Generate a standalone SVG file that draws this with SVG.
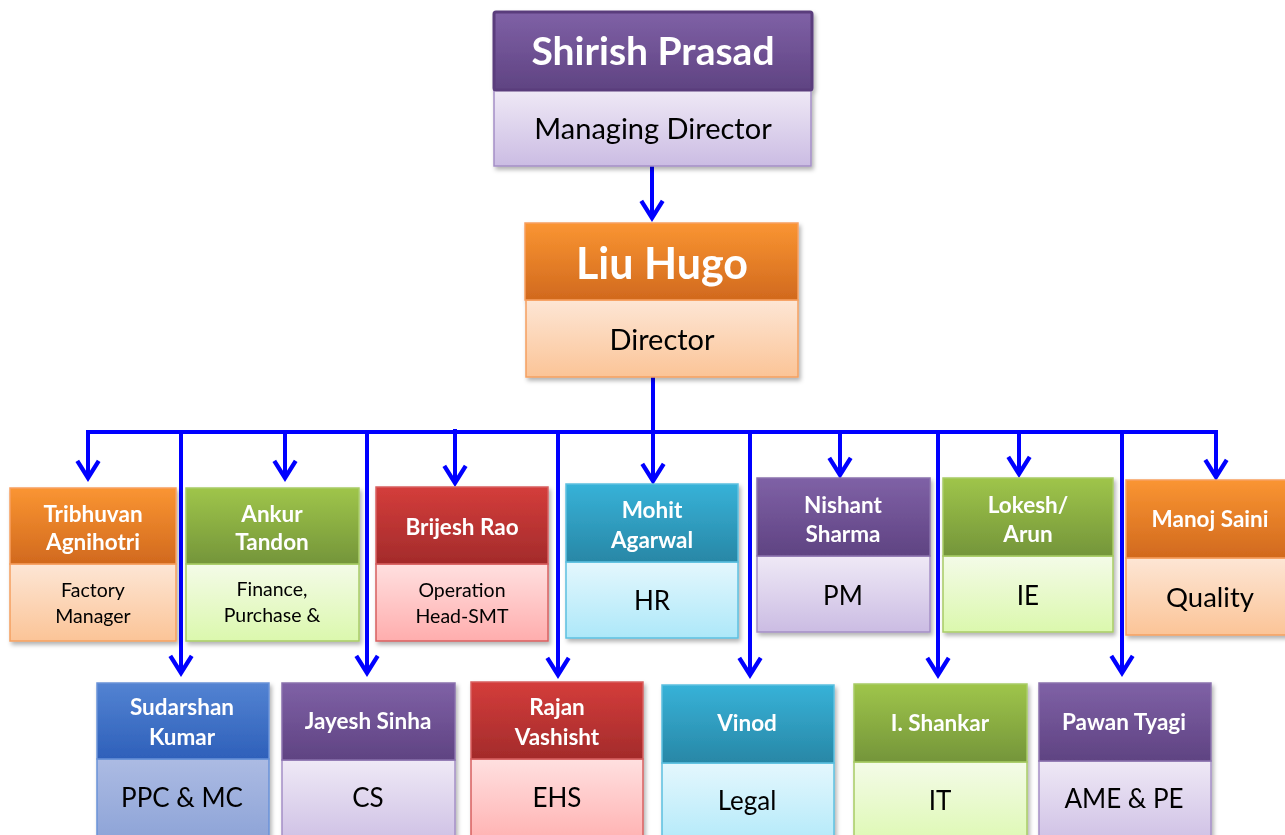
<svg xmlns="http://www.w3.org/2000/svg" width="1285" height="835" viewBox="0 0 1285 835">
<defs>
<linearGradient id="gPurH" x1="0" y1="0" x2="0" y2="1"><stop offset="0" stop-color="#7f61a6"/><stop offset="1" stop-color="#5f4382"/></linearGradient>
<linearGradient id="gPurS" x1="0" y1="0" x2="0" y2="1"><stop offset="0" stop-color="#efe9f6"/><stop offset="1" stop-color="#cbbce3"/></linearGradient>
<linearGradient id="gOrH" x1="0" y1="0" x2="0" y2="1"><stop offset="0" stop-color="#fa9532"/><stop offset="1" stop-color="#d1691e"/></linearGradient>
<linearGradient id="gOrS" x1="0" y1="0" x2="0" y2="1"><stop offset="0" stop-color="#fde6d5"/><stop offset="1" stop-color="#fbc497"/></linearGradient>
<linearGradient id="gGrH" x1="0" y1="0" x2="0" y2="1"><stop offset="0" stop-color="#9fc54a"/><stop offset="1" stop-color="#74953a"/></linearGradient>
<linearGradient id="gGrS" x1="0" y1="0" x2="0" y2="1"><stop offset="0" stop-color="#f4fbe8"/><stop offset="1" stop-color="#dbf8ad"/></linearGradient>
<linearGradient id="gRdH" x1="0" y1="0" x2="0" y2="1"><stop offset="0" stop-color="#d43d3b"/><stop offset="1" stop-color="#a32b2b"/></linearGradient>
<linearGradient id="gRdS" x1="0" y1="0" x2="0" y2="1"><stop offset="0" stop-color="#ffe0e0"/><stop offset="1" stop-color="#ffadad"/></linearGradient>
<linearGradient id="gTeH" x1="0" y1="0" x2="0" y2="1"><stop offset="0" stop-color="#37b2d8"/><stop offset="1" stop-color="#2887a6"/></linearGradient>
<linearGradient id="gTeS" x1="0" y1="0" x2="0" y2="1"><stop offset="0" stop-color="#e4f7fd"/><stop offset="1" stop-color="#ade8f9"/></linearGradient>
<linearGradient id="gBlH" x1="0" y1="0" x2="0" y2="1"><stop offset="0" stop-color="#5383d2"/><stop offset="1" stop-color="#2e60ba"/></linearGradient>
<linearGradient id="gBlS" x1="0" y1="0" x2="0" y2="1"><stop offset="0" stop-color="#acbbe3"/><stop offset="1" stop-color="#8aa1d6"/></linearGradient>
<filter id="sh" x="-10%" y="-10%" width="125%" height="130%"><feDropShadow dx="2" dy="3" stdDeviation="2" flood-color="#000" flood-opacity="0.3"/></filter>
<marker id="ah" markerUnits="userSpaceOnUse" markerWidth="30" markerHeight="30" viewBox="-2 -14 22 28" refX="16" refY="0" orient="auto" overflow="visible">
<path d="M0,-10 L16,0 L0,10" fill="none" stroke="#0000ff" stroke-width="4" stroke-linejoin="miter"/>
</marker>
</defs>
<style>
.pH{fill:url(#gPurH);stroke:#8a72ad;stroke-width:1.5}
.pS{fill:url(#gPurS);stroke:#a48fc6;stroke-width:1.5}
.oH{fill:url(#gOrH);stroke:#f7a060;stroke-width:1.5}
.oS{fill:url(#gOrS);stroke:#f5a060;stroke-width:1.5}
.gH{fill:url(#gGrH);stroke:#a8cc66;stroke-width:1.5}
.gS{fill:url(#gGrS);stroke:#a8cc66;stroke-width:1.5}
.rH{fill:url(#gRdH);stroke:#d86060;stroke-width:1.5}
.rS{fill:url(#gRdS);stroke:#d86060;stroke-width:1.5}
.tH{fill:url(#gTeH);stroke:#5cc0e0;stroke-width:1.5}
.tS{fill:url(#gTeS);stroke:#5cc0e0;stroke-width:1.5}
.bH{fill:url(#gBlH);stroke:#6a92d8;stroke-width:1.5}
.bS{fill:url(#gBlS);stroke:#6a92d8;stroke-width:1.5}
.nm{font-family:Lato,"Open Sans",sans-serif;font-weight:bold;fill:#fff;text-anchor:middle;font-size:22.5px}
.sb{font-family:Lato,"Open Sans",sans-serif;fill:#000;text-anchor:middle;font-size:26px}
.sm{font-family:Lato,"Open Sans",sans-serif;fill:#000;text-anchor:middle;font-size:19.5px}
.node{filter:url(#sh)}
.cn{fill:none;stroke:#0000ff;stroke-width:4}
</style>
<rect width="1285" height="835" fill="#fff"/>

<g id="connectors">
<path class="cn" d="M652,166 V218" marker-end="url(#ah)"/>
<path class="cn" d="M653,377 V432"/>
<path class="cn" d="M88,478 V432 H1216 V477" marker-end="url(#ah)"/>
<path class="cn" d="M88,432 V478" marker-end="url(#ah)"/>
<path class="cn" d="M285,432 V478" marker-end="url(#ah)"/>
<path class="cn" d="M455,429 V483" marker-end="url(#ah)"/>
<path class="cn" d="M653,432 V481" marker-end="url(#ah)"/>
<path class="cn" d="M840,432 V475" marker-end="url(#ah)"/>
<path class="cn" d="M1019,432 V474" marker-end="url(#ah)"/>
<path class="cn" d="M181,432 V673" marker-end="url(#ah)"/>
<path class="cn" d="M367,432 V673" marker-end="url(#ah)"/>
<path class="cn" d="M558,432 V675" marker-end="url(#ah)"/>
<path class="cn" d="M750,432 V675" marker-end="url(#ah)"/>
<path class="cn" d="M938,432 V675" marker-end="url(#ah)"/>
<path class="cn" d="M1122,432 V673" marker-end="url(#ah)"/>
</g>

<g id="n-shirish" class="node">
<rect x="494" y="90" width="317" height="76" class="pS"/>
<rect x="494" y="12" width="318" height="78" rx="2" fill="url(#gPurH)" stroke="#5a3c7c" stroke-width="3"/>
<text class="nm" x="653" y="65" style="font-size:39px">Shirish Prasad</text>
<text class="sb" x="653" y="139" style="font-size:29px">Managing Director</text>
</g>

<g id="n-liu" class="node">
<rect x="526" y="300" width="272" height="77" class="oS"/>
<rect x="525" y="223" width="273" height="77" class="oH"/>
<text class="nm" x="662" y="279" style="font-size:43px">Liu Hugo</text>
<text class="sb" x="662" y="350" style="font-size:29px">Director</text>
</g>

<g id="n-tribhuvan" class="node">
<rect x="10" y="564" width="166" height="77" class="oS"/>
<rect x="10" y="488" width="166" height="76" class="oH"/>
<text class="nm" x="93" y="522">Tribhuvan</text>
<text class="nm" x="93" y="550">Agnihotri</text>
<text class="sm" x="93" y="597">Factory</text>
<text class="sm" x="93" y="623">Manager</text>
</g>

<g id="n-ankur" class="node">
<rect x="186" y="564" width="173" height="77" class="gS"/>
<rect x="186" y="488" width="173" height="76" class="gH"/>
<text class="nm" x="272" y="522">Ankur</text>
<text class="nm" x="272" y="550">Tandon</text>
<text class="sm" x="272" y="596">Finance,</text>
<text class="sm" x="272" y="622">Purchase &amp;</text>
</g>

<g id="n-brijesh" class="node">
<rect x="376" y="564" width="172" height="77" class="rS"/>
<rect x="376" y="487" width="172" height="77" class="rH"/>
<text class="nm" x="462" y="535">Brijesh Rao</text>
<text class="sm" x="462" y="597">Operation</text>
<text class="sm" x="462" y="623">Head-SMT</text>
</g>

<g id="n-mohit" class="node">
<rect x="566" y="562" width="172" height="76" class="tS"/>
<rect x="566" y="484" width="172" height="78" class="tH"/>
<text class="nm" x="652" y="518">Mohit</text>
<text class="nm" x="652" y="548">Agarwal</text>
<text class="sb" x="652" y="610">HR</text>
</g>

<g id="n-nishant" class="node">
<rect x="757" y="556" width="173" height="76" class="pS"/>
<rect x="757" y="478" width="173" height="78" class="pH"/>
<text class="nm" x="843" y="513">Nishant</text>
<text class="nm" x="843" y="542">Sharma</text>
<text class="sb" x="843" y="605">PM</text>
</g>

<g id="n-lokesh" class="node">
<rect x="943" y="556" width="170" height="76" class="gS"/>
<rect x="943" y="478" width="170" height="78" class="gH"/>
<text class="nm" x="1028" y="513">Lokesh/</text>
<text class="nm" x="1028" y="542">Arun</text>
<text class="sb" x="1028" y="605">IE</text>
</g>

<g id="n-manoj" class="node">
<rect x="1126" y="558" width="165" height="77" class="oS"/>
<rect x="1126" y="480" width="165" height="78" class="oH"/>
<text class="nm" x="1210" y="527">Manoj Saini</text>
<text class="sb" x="1210" y="607" style="font-size:27.5px">Quality</text>
</g>

<g id="n-sudarshan" class="node">
<rect x="97" y="759" width="172" height="90" class="bS"/>
<rect x="97" y="683" width="172" height="76" class="bH"/>
<text class="nm" x="182" y="715">Sudarshan</text>
<text class="nm" x="182" y="745">Kumar</text>
<text class="sb" x="182" y="807">PPC &amp; MC</text>
</g>

<g id="n-jayesh" class="node">
<rect x="282" y="760" width="173" height="90" class="pS"/>
<rect x="282" y="683" width="173" height="77" class="pH"/>
<text class="nm" x="368" y="729">Jayesh Sinha</text>
<text class="sb" x="368" y="807">CS</text>
</g>

<g id="n-rajan" class="node">
<rect x="471" y="759" width="172" height="90" class="rS"/>
<rect x="471" y="682" width="172" height="77" class="rH"/>
<text class="nm" x="557" y="715">Rajan</text>
<text class="nm" x="557" y="745">Vashisht</text>
<text class="sb" x="557" y="807">EHS</text>
</g>

<g id="n-vinod" class="node">
<rect x="662" y="763" width="172" height="90" class="tS"/>
<rect x="662" y="685" width="172" height="78" class="tH"/>
<text class="nm" x="747" y="731">Vinod</text>
<text class="sb" x="747" y="810">Legal</text>
</g>

<g id="n-shankar" class="node">
<rect x="854" y="762" width="173" height="90" class="gS"/>
<rect x="854" y="684" width="173" height="78" class="gH"/>
<text class="nm" x="940" y="731">I. Shankar</text>
<text class="sb" x="940" y="810">IT</text>
</g>

<g id="n-pawan" class="node">
<rect x="1039" y="761" width="172" height="90" class="pS"/>
<rect x="1039" y="683" width="172" height="78" class="pH"/>
<text class="nm" x="1124" y="730">Pawan Tyagi</text>
<text class="sb" x="1124" y="808">AME &amp; PE</text>
</g>
</svg>
